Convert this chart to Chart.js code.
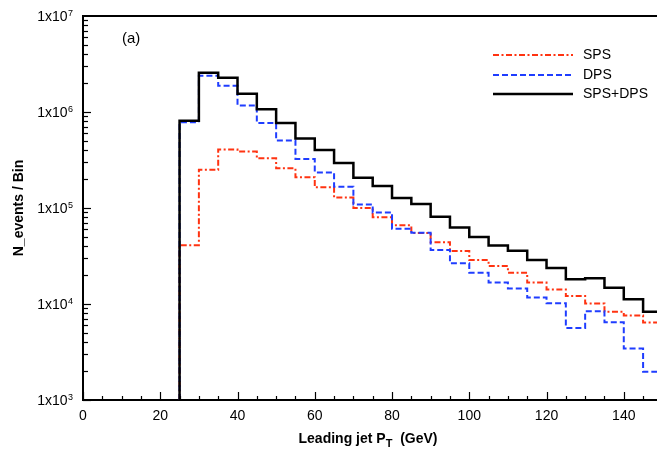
<!DOCTYPE html>
<html>
<head>
<meta charset="utf-8">
<script src="https://cdn.jsdelivr.net/npm/chart.js@4.4.1/dist/chart.umd.min.js"></script>
<style>
html,body{margin:0;padding:0;background:#fff;}
#wrap{width:657px;height:451px;}
</style>
</head>
<body>
<div id="wrap"><canvas id="c" width="657" height="451"></canvas></div>
<script>
// ---- data ----
const binLow = [25,30,35,40,45,50,55,60,65,70,75,80,85,90,95,100,105,110,115,120,125,130,135,140,145];
const binWidth = 5;
const sps = [4.1e4,2.5e5,4.06e5,3.87e5,3.29e5,2.59e5,2.09e5,1.64e5,1.29e5,1.0e5,8.0e4,6.6e4,5.5e4,4.4e4,3.56e4,2.87e4,2.49e4,2.12e4,1.67e4,1.42e4,1.21e4,1.01e4,8.3e3,7.6e3,6.4e3];
const dps = [7.8e5,2.38e6,1.88e6,1.17e6,7.7e5,5.06e5,3.24e5,2.35e5,1.66e5,1.09e5,9.0e4,6.08e4,5.52e4,3.65e4,2.65e4,2.12e4,1.67e4,1.45e4,1.17e4,1.02e4,5.64e3,8.4e3,6.45e3,3.44e3,1.97e3];
const total = [8.1e5,2.56e6,2.27e6,1.55e6,1.07e6,7.7e5,5.3e5,4.03e5,2.95e5,2.07e5,1.69e5,1.27e5,1.10e5,8.1e4,6.27e4,5.0e4,4.07e4,3.59e4,2.87e4,2.37e4,1.81e4,1.86e4,1.48e4,1.12e4,8.3e3];
const xTickLabels = [0,20,40,60,80,100,120,140];
const yTickExponents = [3,4,5,6,7];
const seriesNames = ['SPS','DPS','SPS+DPS'];

const X_MIN = 0, X_MAX = 148.6, Y_MIN = 1e3, Y_MAX = 1e7;

function histPoints(vals){
  const pts = [{x: binLow[0], y: Y_MIN}];
  for (let i=0;i<binLow.length;i++) pts.push({x: binLow[i], y: vals[i]});
  pts.push({x: binLow[binLow.length-1]+binWidth, y: vals[vals.length-1]});
  return pts;
}

const FONT = '"Liberation Sans", Arial, Helvetica, sans-serif';

const decor = {
  id: 'decor',
  afterDraw(chart){
    const ctx = chart.ctx, ca = chart.chartArea;
    const xs = chart.scales.x, ys = chart.scales.y;
    ctx.save();
    ctx.strokeStyle = '#000';
    // frame (top line)
    ctx.lineWidth = 2;
    ctx.beginPath();
    ctx.moveTo(ca.left, ca.top); ctx.lineTo(ca.right, ca.top);
    ctx.stroke();
    // x ticks inward
    ctx.lineWidth = 1.2;
    for (let v=0; v<=X_MAX; v+=5){
      const px = Math.round(xs.getPixelForValue(v))+0.5;
      const len = (v%20===0)?8:4;
      ctx.beginPath(); ctx.moveTo(px, ca.bottom); ctx.lineTo(px, ca.bottom-len); ctx.stroke();
    }
    // y ticks inward
    for (let e=3; e<7; e++){
      for (let m=1; m<10; m++){
        const py = Math.round(ys.getPixelForValue(m*Math.pow(10,e)))+0.5;
        const len = (m===1)?8:5;
        ctx.beginPath(); ctx.moveTo(ca.left, py); ctx.lineTo(ca.left+len, py); ctx.stroke();
      }
    }
    // x tick labels
    ctx.fillStyle = '#000';
    ctx.font = '14px ' + FONT;
    ctx.textAlign = 'center'; ctx.textBaseline = 'alphabetic';
    xTickLabels.forEach(v=>{
      ctx.fillText(String(v), xs.getPixelForValue(v), ca.bottom+20);
    });
    // y tick labels with superscripts
    yTickExponents.forEach(e=>{
      const py = ys.getPixelForValue(Math.pow(10,e));
      ctx.font = '9px ' + FONT;
      const ew = ctx.measureText(String(e)).width;
      ctx.textAlign = 'right';
      ctx.fillText(String(e), ca.left-10, py-0.5);
      ctx.font = '14px ' + FONT;
      ctx.fillText('1x10', ca.left-10.5-ew, py+5);
    });
    // axis titles
    ctx.font = 'bold 14px ' + FONT;
    ctx.textAlign = 'left';
    const t1 = 'Leading jet P', t2 = 'T', t3 = '  (GeV)';
    const w1 = ctx.measureText(t1).width;
    ctx.font = 'bold 11px ' + FONT;
    const w2 = ctx.measureText(t2).width;
    ctx.font = 'bold 14px ' + FONT;
    const w3 = ctx.measureText(t3).width;
    const cx = (ca.left+ca.right)/2 - 2;
    let sx = cx - (w1+w2+w3)/2;
    const by = 443;
    ctx.fillText(t1, sx, by);
    ctx.font = 'bold 11px ' + FONT;
    ctx.fillText(t2, sx+w1, by+4);
    ctx.font = 'bold 14px ' + FONT;
    ctx.fillText(t3, sx+w1+w2, by);
    ctx.save();
    ctx.translate(23, (ca.top+ca.bottom)/2);
    ctx.rotate(-Math.PI/2);
    ctx.textAlign = 'center';
    ctx.fillText('N_events / Bin', 0, 0);
    ctx.restore();
    // panel label
    ctx.font = '15px ' + FONT;
    ctx.textAlign = 'left';
    ctx.fillText('(a)', 122, 43);
    // legend
    const ds = chart.data.datasets;
    const ly = [55, 75, 94];
    seriesNames.forEach((name,i)=>{
      const d = ds[i];
      ctx.strokeStyle = d.borderColor;
      ctx.lineWidth = d.borderWidth;
      ctx.setLineDash(d.borderDash || []);
      ctx.beginPath(); ctx.moveTo(493, ly[i]); ctx.lineTo(573, ly[i]); ctx.stroke();
      ctx.setLineDash([]);
      ctx.fillStyle = '#000';
      ctx.font = '14px ' + FONT;
      ctx.textBaseline = 'middle';
      ctx.fillText(name, 583, ly[i]);
    });
    ctx.restore();
  }
};

new Chart(document.getElementById('c'), {
  type: 'line',
  data: {
    datasets: [
      {label: seriesNames[0], data: histPoints(sps), borderColor: '#ff3311', borderWidth: 2, borderDash: [6,2.5,2,2.5], stepped: 'before', pointRadius: 0, fill: false, order: 2, clip: 0},
      {label: seriesNames[1], data: histPoints(dps), borderColor: '#1f3dff', borderWidth: 2, borderDash: [6,3], stepped: 'before', pointRadius: 0, fill: false, order: 1, clip: 0},
      {label: seriesNames[2], data: histPoints(total), borderColor: '#000000', borderWidth: 2.5, stepped: 'before', pointRadius: 0, fill: false, order: 0, clip: 0}
    ]
  },
  options: {
    responsive: false,
    animation: false,
    devicePixelRatio: 1,
    layout: {padding: {top: 16, right: 0, left: 0, bottom: 0}},
    plugins: {legend: {display: false}, tooltip: {enabled: false}},
    scales: {
      x: {
        type: 'linear', min: X_MIN, max: X_MAX,
        grid: {display: false},
        border: {display: true, color: '#000', width: 2},
        ticks: {display: false},
        afterFit(s){ s.height = 51; }
      },
      y: {
        type: 'logarithmic', min: Y_MIN, max: Y_MAX,
        grid: {display: false},
        border: {display: true, color: '#000', width: 2},
        ticks: {display: false},
        afterFit(s){ s.width = 83; }
      }
    }
  },
  plugins: [decor]
});
</script>
</body>
</html>
